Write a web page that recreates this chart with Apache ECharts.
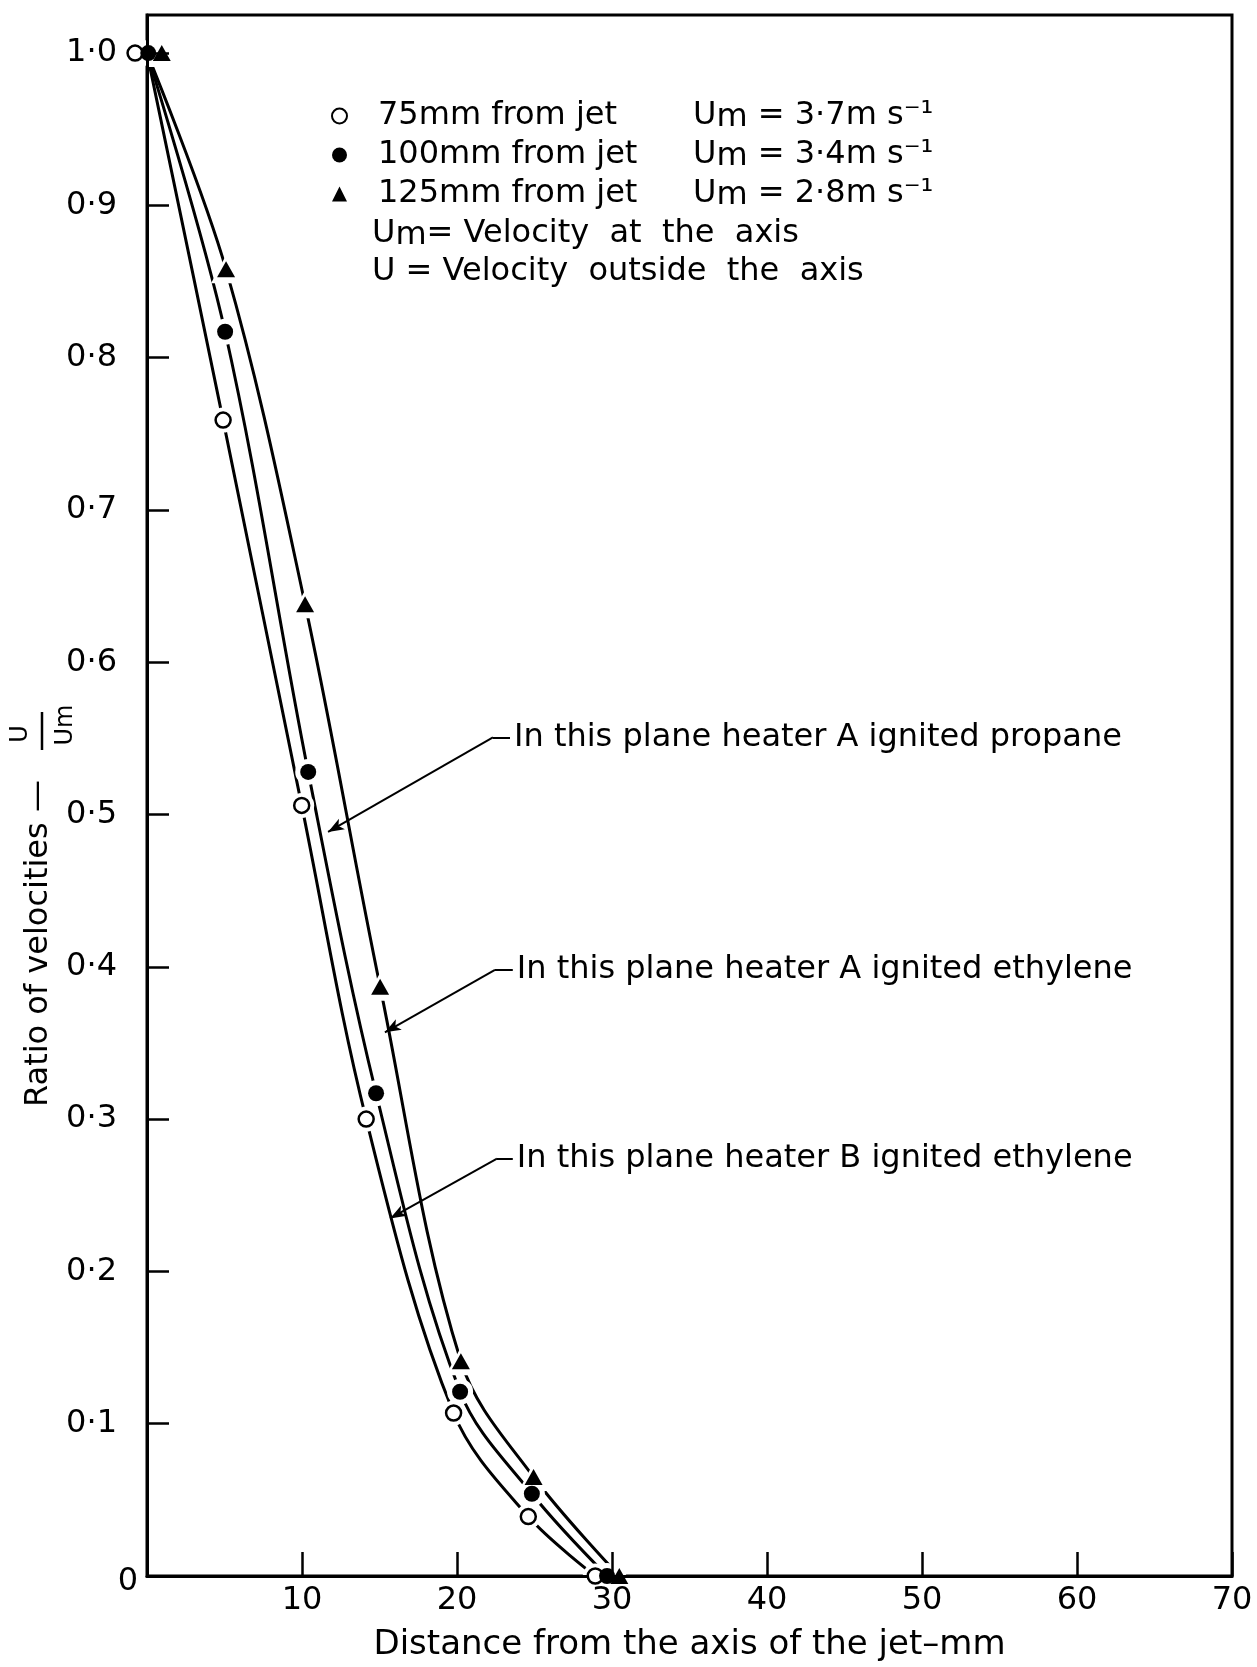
<!DOCTYPE html>
<html>
<head>
<meta charset="utf-8">
<script src="https://cdn.jsdelivr.net/npm/echarts@6/dist/echarts.min.js"></script>
<style>
html,body{margin:0;padding:0;background:#fff;}
#chart{width:1257px;height:1667px;}
</style>
</head>
<body>
<div id="chart"></div>
<script>
// ---------- data ----------
const seriesNames = ['75mm from jet', '100mm from jet', '125mm from jet'];
const umValues = ['3·7', '3·4', '2·8'];

// plotted marker positions (the three points at U/Um = 1 are drawn side by side)
const x75  = [-0.77, 4.91, 9.98, 14.14, 19.78, 24.60, 28.92];
const y75  = [1.000, 0.759, 0.506, 0.300, 0.107, 0.039, 0.000];
const x100 = [0.08, 5.04, 10.40, 14.78, 20.20, 24.83, 29.68];
const y100 = [1.000, 0.817, 0.528, 0.317, 0.121, 0.054, 0.000];
const x125 = [0.95, 5.10, 10.20, 15.04, 20.25, 24.94, 30.47];
const y125 = [1.000, 0.858, 0.638, 0.387, 0.141, 0.065, 0.000];
// every profile starts at the jet axis with U/Um = 1
const axisPoint = [0, 1.0];

const xTickValues = [10, 20, 30, 40, 50, 60, 70];
const yTickValues = [0, 0.1, 0.2, 0.3, 0.4, 0.5, 0.6, 0.7, 0.8, 0.9, 1.0];

const noteTexts = [
  'In this plane heater A ignited propane',
  'In this plane heater A ignited ethylene',
  'In this plane heater B ignited ethylene'
];
const noteY      = [0.5507, 0.398, 0.274];
const noteElbowX = [22.32, 22.45, 22.58];
const noteDashX  = [23.42, 23.60, 23.60];
const noteTipX   = [11.68, 15.35, 15.68];
const noteTipY   = [0.4886, 0.357, 0.2348];

const legendExtra = ['= Velocity  at  the  axis', '= Velocity  outside  the  axis'];

// ---------- chart ----------
const FONT = '"DejaVu Sans", sans-serif';
const zip = (xs, ys) => xs.map((x, i) => [x, ys[i]]);
const d75 = zip(x75, y75), d100 = zip(x100, y100), d125 = zip(x125, y125);
const curveOf = d => [axisPoint].concat(d.slice(1));

const richBase = {
  p: { width: 26, fontSize: 32, fontFamily: FONT },
  a: { width: 315, fontSize: 32, fontFamily: FONT, color: '#000' },
  u: { fontSize: 32, lineHeight: 36, fontFamily: FONT, color: '#000' },
  m: { fontSize: 32, lineHeight: 24, verticalAlign: 'bottom', fontFamily: FONT, color: '#000' },
  r: { fontSize: 32, fontFamily: FONT, color: '#000' }
};

function curve(name, data) {
  return {
    name: name, type: 'line', data: data, smooth: 0.35,
    showSymbol: false, silent: true, z: 2, clip: true,
    lineStyle: { color: '#000', width: 3 }
  };
}
function halo(name, data, symbol, size) {
  return {
    name: name, type: 'scatter', data: data, symbol: symbol, symbolSize: size,
    silent: true, z: 3, clip: false,
    itemStyle: { color: '#fff', opacity: 1 }
  };
}

const chart = echarts.init(document.getElementById('chart'), null, { renderer: 'canvas' });

const option = {
  backgroundColor: '#fff',
  animation: false,
  textStyle: { fontFamily: FONT, color: '#000' },
  grid: {
    left: 147, right: 25, top: 15, bottom: 85,
    show: true, borderColor: '#000', borderWidth: 3, backgroundColor: 'transparent'
  },
  xAxis: {
    type: 'value', min: 0, max: 70, interval: 10, z: 4,
    name: 'Distance from the axis of the jet–mm',
    nameLocation: 'middle', nameGap: 52,
    nameTextStyle: { fontSize: 34, fontFamily: FONT, color: '#000' },
    axisLine: { show: true, onZero: false, lineStyle: { color: '#000', width: 3 } },
    axisTick: { show: true, inside: true, length: 24, lineStyle: { color: '#000', width: 2.5 } },
    axisLabel: {
      show: true, margin: 9, fontSize: 32, fontFamily: FONT, color: '#000',
      showMinLabel: false,
      formatter: v => (xTickValues.indexOf(v) >= 0 ? String(v) : '')
    },
    splitLine: { show: false }
  },
  yAxis: {
    type: 'value', min: 0, max: 1.025, interval: 0.1, z: 4,
    axisLine: { show: true, onZero: false, lineStyle: { color: '#000', width: 3 } },
    axisTick: { show: true, inside: true, length: 22, lineStyle: { color: '#000', width: 2.5 } },
    axisLabel: {
      show: true, margin: 30, fontSize: 32, fontFamily: FONT, color: '#000',
      showMaxLabel: false, showMinLabel: false,
      formatter: v => {
        const hit = yTickValues.find(t => Math.abs(t - v) < 1e-6);
        if (hit === undefined || hit === 0) return '';
        return hit.toFixed(1).replace('.', '·');
      }
    },
    splitLine: { show: false }
  },
  legend: {
    data: seriesNames,
    orient: 'vertical', left: 326, top: 95,
    itemWidth: 15, itemHeight: 15, itemGap: 5,
    selectedMode: false,
    textStyle: { fontSize: 32, fontFamily: FONT, color: '#000', rich: richBase },
    formatter: name => {
      const i = seriesNames.indexOf(name);
      return '{p| }{a|' + name + '}{u|U}{m|m}{r| = ' + umValues[i] + 'm s⁻¹}';
    }
  },
  graphic: [
    {
      type: 'text', x: 372, y: 234, silent: true,
      style: {
        text: '{u|U}{m|m}{r|' + legendExtra[0] + '}', rich: richBase,
        fontSize: 32, fontFamily: FONT, fill: '#000', verticalAlign: 'middle', align: 'left'
      }
    },
    {
      type: 'text', x: 372, y: 272, silent: true,
      style: {
        text: '{u|U}{r| ' + legendExtra[1] + '}', rich: richBase,
        fontSize: 32, fontFamily: FONT, fill: '#000', verticalAlign: 'middle', align: 'left'
      }
    },
    {
      // the "0" tick label of the value axis sits closer to the axis than the others
      type: 'text', x: 128, y: 1582, silent: true,
      style: { text: String(yTickValues[0]), fontSize: 32, fontFamily: FONT, fill: '#000',
               align: 'center', verticalAlign: 'middle' }
    },
    {
      type: 'group', x: 0, y: 1107, rotation: Math.PI / 2, silent: true,
      children: [
        {
          type: 'text', x: 0, y: 39,
          style: { text: 'Ratio of velocities —', fontSize: 32, fontFamily: FONT, fill: '#000',
                   align: 'left', verticalAlign: 'middle' }
        },
        {
          type: 'text', x: 373, y: 21,
          style: { text: 'U', fontSize: 24, fontFamily: FONT, fill: '#000',
                   align: 'center', verticalAlign: 'middle' }
        },
        {
          type: 'line',
          shape: { x1: 357, y1: 42, x2: 395, y2: 42 },
          style: { stroke: '#000', lineWidth: 2.5 }
        },
        {
          type: 'text', x: 382, y: 66,
          style: { text: 'Um', fontSize: 24, fontFamily: FONT, fill: '#000',
                   align: 'center', verticalAlign: 'middle' }
        }
      ]
    }
  ],
  series: [
    curve('curve75', curveOf(d75)),
    curve('curve100', curveOf(d100)),
    curve('curve125', curveOf(d125)),
    halo('halo75', d75, 'circle', 25),
    halo('halo100', d100, 'circle', 26),
    halo('halo125', d125, 'triangle', [30, 28]),
    {
      name: seriesNames[0], type: 'scatter', data: d75, symbol: 'circle', symbolSize: 15,
      z: 5, clip: false, silent: true,
      itemStyle: { color: '#fff', borderColor: '#000', borderWidth: 2.5, opacity: 1 }
    },
    {
      name: seriesNames[1], type: 'scatter', data: d100, symbol: 'circle', symbolSize: 16,
      z: 5, clip: false, silent: true,
      itemStyle: { color: '#000', borderColor: '#000', borderWidth: 0, opacity: 1 }
    },
    {
      name: seriesNames[2], type: 'scatter', data: d125, symbol: 'triangle', symbolSize: [18, 16],
      z: 5, clip: false, silent: true,
      itemStyle: { color: '#000', borderColor: '#000', borderWidth: 0, opacity: 1 },
      markLine: {
        silent: true, animation: false,
        symbol: ['none', 'arrow'], symbolSize: [9, 16],
        lineStyle: { color: '#000', width: 2, type: 'solid' },
        label: { show: false },
        emphasis: { disabled: true },
        data: noteTexts.flatMap((t, i) => [
          [
            { coord: [noteElbowX[i], noteY[i]], symbol: 'none' },
            { coord: [noteDashX[i], noteY[i]], symbol: 'none',
              label: { show: true, position: 'end', distance: 4, formatter: t,
                       fontSize: 32, fontFamily: FONT, color: '#000' } }
          ],
          [
            { coord: [noteElbowX[i], noteY[i]], symbol: 'none' },
            { coord: [noteTipX[i], noteTipY[i]], symbol: 'arrow' }
          ]
        ])
      }
    }
  ]
};
chart.setOption(option);
</script>
</body>
</html>
